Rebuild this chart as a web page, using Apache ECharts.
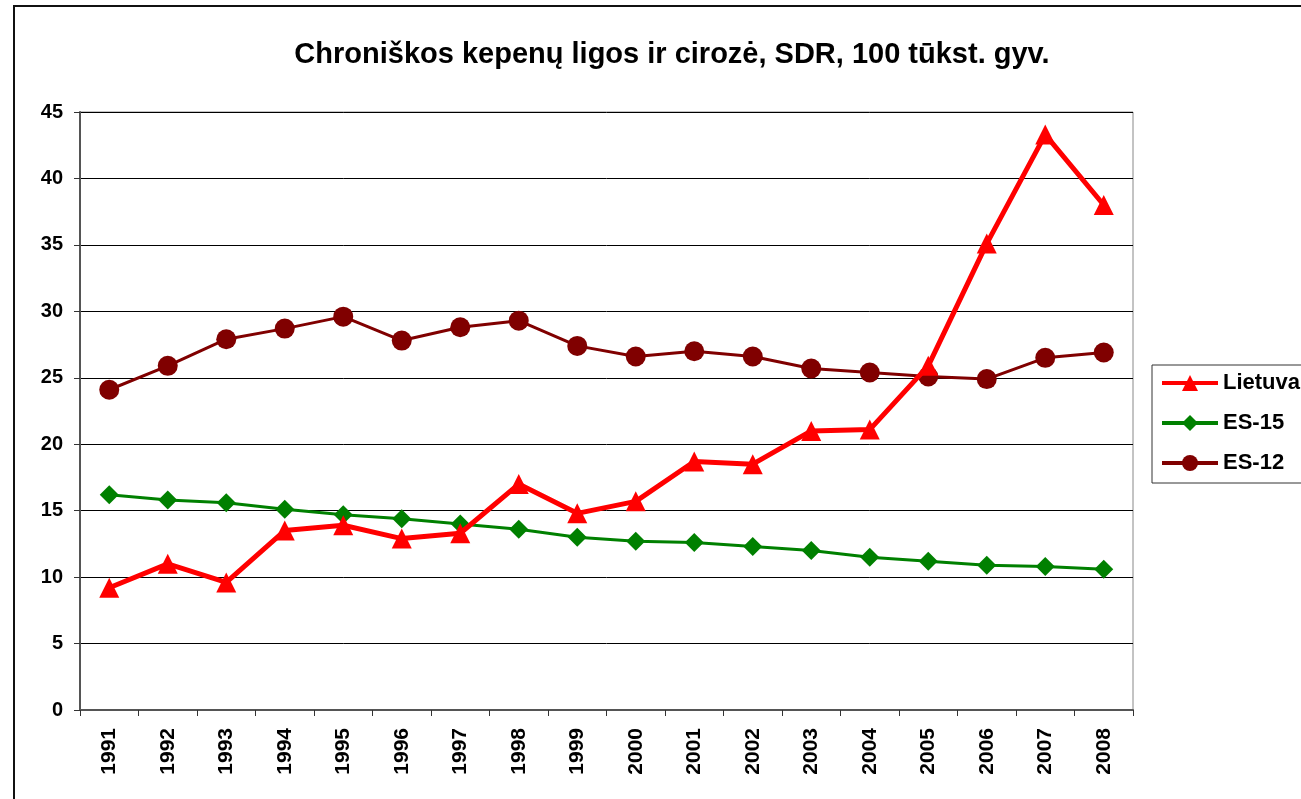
<!DOCTYPE html>
<html>
<head>
<meta charset="utf-8">
<script src="https://cdn.jsdelivr.net/npm/echarts@6/dist/echarts.min.js"></script>
<style>
html, body { margin: 0; padding: 0; background: #fff; }
#chart { width: 1301px; height: 799px; }
</style>
</head>
<body>
<div id="chart"></div>
<script>
var years = ['1991', '1992', '1993', '1994', '1995', '1996', '1997', '1998', '1999',
    '2000', '2001', '2002', '2003', '2004', '2005', '2006', '2007', '2008'];
var lietuva = [9.2, 11.0, 9.6, 13.5, 13.9, 12.9, 13.3, 17.0, 14.8, 15.7, 18.7, 18.5, 21.0, 21.1, 25.9, 35.1, 43.3, 38.0];
var es15 = [16.2, 15.8, 15.6, 15.1, 14.7, 14.4, 14.0, 13.6, 13.0, 12.7, 12.6, 12.3, 12.0, 11.5, 11.2, 10.9, 10.8, 10.6];
var es12 = [24.1, 25.9, 27.9, 28.7, 29.6, 27.8, 28.8, 29.3, 27.4, 26.6, 27.0, 26.6, 25.7, 25.4, 25.1, 24.9, 26.5, 26.9];
var yTicks = [0, 5, 10, 15, 20, 25, 30, 35, 40, 45];

var chart = echarts.init(document.getElementById('chart'));

var font = 'Liberation Sans, Arial, sans-serif';

var option = {
    backgroundColor: '#fff',
    animation: false,
    title: {
        text: 'Chroniškos kepenų ligos ir cirozė, SDR, 100 tūkst. gyv.',
        left: 667,
        top: 35,
        textAlign: 'center',
        textStyle: { fontFamily: font, fontWeight: 'bold', fontSize: 29, color: '#000' }
    },
    graphic: [{
        type: 'rect',
        shape: { x: 14, y: 6, width: 1300, height: 800 },
        style: { fill: 'none', stroke: '#111', lineWidth: 2 },
        silent: true
    }],
    legend: {
        orient: 'vertical',
        left: 1152,
        top: 365,
        padding: [7, 40, 9, 8],
        itemGap: 18,
        itemWidth: 56,
        itemHeight: 20,
        borderColor: '#333',
        borderWidth: 1,
        lineStyle: { width: 4 },
        textStyle: { fontFamily: font, fontWeight: 'bold', fontSize: 22, color: '#000' },
        data: ['Lietuva', 'ES-15', 'ES-12']
    },
    grid: {
        left: 80,
        right: 168,
        top: 112,
        bottom: 89,
        show: true,
        borderColor: '#888',
        borderWidth: 1
    },
    xAxis: {
        type: 'category',
        data: years,
        boundaryGap: true,
        axisLine: { lineStyle: { color: '#555', width: 2 } },
        axisTick: { show: true, length: 6, lineStyle: { color: '#333' } },
        axisLabel: {
            rotate: 90,
            margin: 18,
            fontFamily: font,
            fontWeight: 'bold',
            fontSize: 21,
            color: '#000'
        }
    },
    yAxis: {
        type: 'value',
        min: yTicks[0],
        max: yTicks[yTicks.length - 1],
        interval: 5,
        axisLine: { show: true, lineStyle: { color: '#555', width: 2 } },
        axisTick: { show: true, length: 6, lineStyle: { color: '#333' } },
        splitLine: { lineStyle: { color: '#000', width: 1 } },
        axisLabel: {
            margin: 17,
            fontFamily: font,
            fontWeight: 'bold',
            fontSize: 20,
            color: '#000'
        }
    },
    series: [
        {
            name: 'Lietuva',
            type: 'line',
            data: lietuva,
            symbol: 'triangle',
            symbolSize: 20,
            itemStyle: { color: '#ff0000' },
            lineStyle: { color: '#ff0000', width: 5 },
            z: 5
        },
        {
            name: 'ES-15',
            type: 'line',
            data: es15,
            symbol: 'diamond',
            symbolSize: 19,
            itemStyle: { color: '#008000' },
            lineStyle: { color: '#008000', width: 3 },
            z: 3
        },
        {
            name: 'ES-12',
            type: 'line',
            data: es12,
            symbol: 'circle',
            symbolSize: 20,
            itemStyle: { color: '#800000' },
            lineStyle: { color: '#800000', width: 3 },
            z: 4
        }
    ]
};

chart.setOption(option);
</script>
</body>
</html>
